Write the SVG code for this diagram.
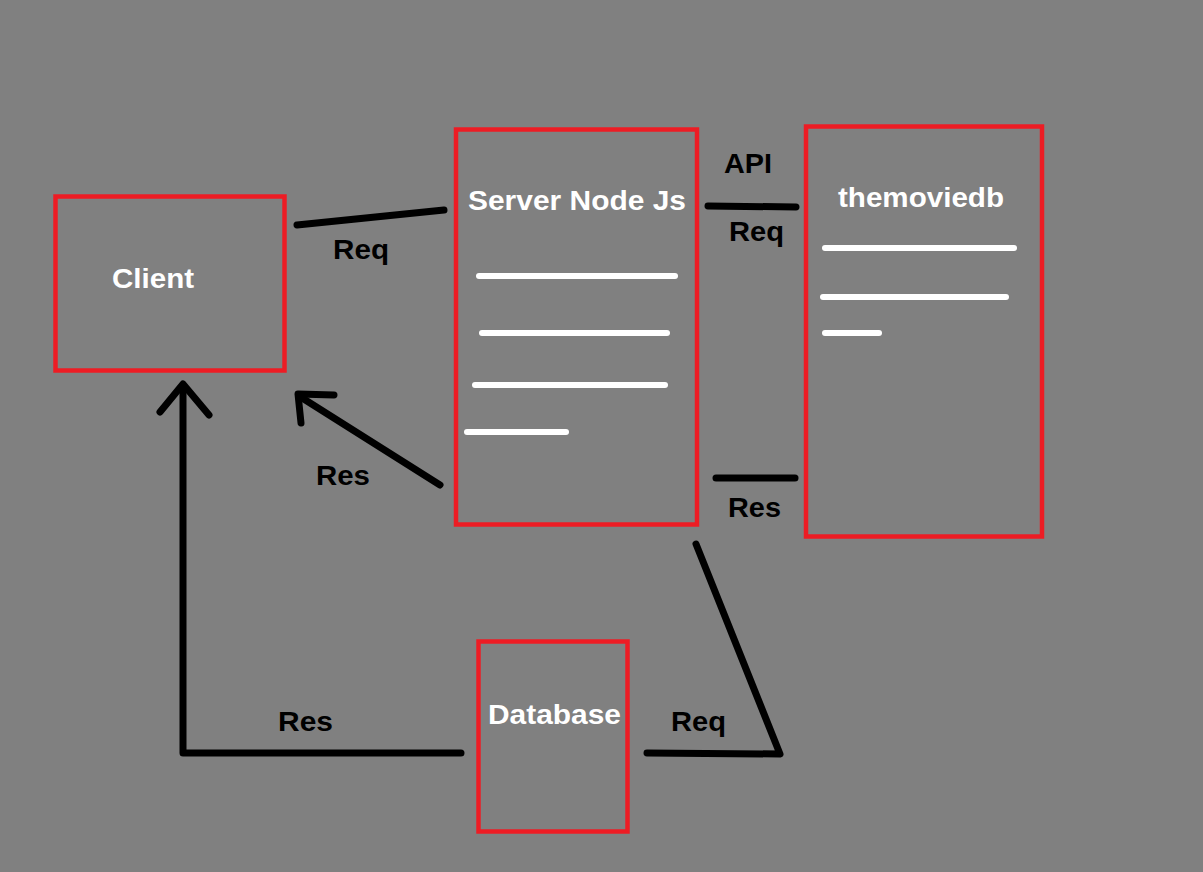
<svg xmlns="http://www.w3.org/2000/svg" width="1203" height="872" viewBox="0 0 1203 872">
<style>
.box{fill:none;stroke:#ED1C24;stroke-width:4.5}
.title{font-family:"Liberation Sans",Arial,sans-serif;font-weight:bold;font-size:28px;fill:#FFFFFF}
.lbl{font-family:"Liberation Sans",Arial,sans-serif;font-weight:bold;font-size:28px;fill:#000000}
.wl{stroke:#FFFFFF;stroke-width:6;stroke-linecap:round;fill:none}
.cn{stroke:#000000;stroke-width:7;stroke-linecap:round;stroke-linejoin:round;fill:none}
</style>
<rect width="1203" height="872" fill="#808080"/>
<g id="client">
<rect class="box" x="55.5" y="196.5" width="229" height="174"/>
<text class="title" x="112" y="288" textLength="82" lengthAdjust="spacingAndGlyphs">Client</text>
</g>
<g id="server">
<rect class="box" x="456" y="129.5" width="241" height="395"/>
<text class="title" x="468" y="210" textLength="218" lengthAdjust="spacingAndGlyphs">Server Node Js</text>
<line class="wl" x1="479" y1="276" x2="675" y2="276"/>
<line class="wl" x1="482" y1="333" x2="667" y2="333"/>
<line class="wl" x1="475" y1="385" x2="665" y2="385"/>
<line class="wl" x1="467" y1="432" x2="566" y2="432"/>
</g>
<g id="themoviedb">
<rect class="box" x="806" y="126.5" width="236" height="410"/>
<text class="title" x="838" y="207" textLength="166" lengthAdjust="spacingAndGlyphs">themoviedb</text>
<line class="wl" x1="825" y1="248" x2="1014" y2="248"/>
<line class="wl" x1="823" y1="297" x2="1006" y2="297"/>
<line class="wl" x1="825" y1="333" x2="879" y2="333"/>
</g>
<g id="database">
<rect class="box" x="478.5" y="641.5" width="149" height="190"/>
<text class="title" x="488" y="724" textLength="133" lengthAdjust="spacingAndGlyphs">Database</text>
</g>
<g id="connectors">
<line class="cn" x1="297" y1="225" x2="444" y2="210"/>
<text class="lbl" x="333" y="259" textLength="56" lengthAdjust="spacingAndGlyphs">Req</text>
<line class="cn" x1="440" y1="485" x2="299" y2="396"/>
<polyline class="cn" points="334,395 298,394 301,423"/>
<text class="lbl" x="316" y="485" textLength="54" lengthAdjust="spacingAndGlyphs">Res</text>
<line class="cn" x1="708" y1="206" x2="796" y2="207"/>
<text class="lbl" x="724" y="173" textLength="48" lengthAdjust="spacingAndGlyphs">API</text>
<text class="lbl" x="729" y="241" textLength="55" lengthAdjust="spacingAndGlyphs">Req</text>
<line class="cn" x1="716" y1="478" x2="795" y2="478"/>
<text class="lbl" x="728" y="517" textLength="53" lengthAdjust="spacingAndGlyphs">Res</text>
<polyline class="cn" points="696,544 780,754 647,753"/>
<text class="lbl" x="671" y="731" textLength="55" lengthAdjust="spacingAndGlyphs">Req</text>
<polyline class="cn" points="461,753 183,753 183,386"/>
<polyline class="cn" points="160,412 183,384 209,415"/>
<text class="lbl" x="278" y="731" textLength="55" lengthAdjust="spacingAndGlyphs">Res</text>
</g>
</svg>
